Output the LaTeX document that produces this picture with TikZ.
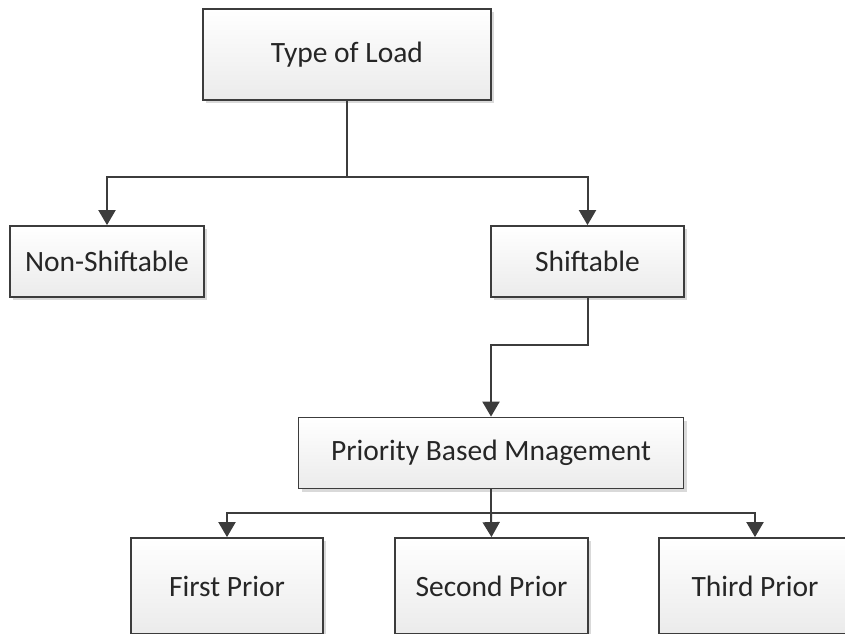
\documentclass[tikz,border=0pt]{standalone}
\usepackage{fontspec}
\setmainfont{Carlito}
\usetikzlibrary{arrows.meta,shadows,positioning}
\definecolor{linec}{HTML}{3C3C3C}
\definecolor{boxbot}{HTML}{EBEBEB}
\tikzset{
  box/.style={draw=linec, line width=1.8pt, top color=white, bottom color=boxbot,
    drop shadow={shadow xshift=3pt, shadow yshift=-3pt, opacity=0.25, fill=black!60},
    inner sep=0pt, font=\fontsize{29.5}{34}\selectfont, text=black!85},
  conn/.style={draw=linec, line width=2pt, -{Triangle[width=17pt,length=15pt]}},
  plain/.style={draw=linec, line width=2pt}
}
\begin{document}
\begin{tikzpicture}[x=1pt,y=-1pt]
\useasboundingbox (0,0) rectangle (845,633);
\clip (0,0) rectangle (845,633);
\node[box, minimum width=288pt, minimum height=91pt] (load) at (347,54.5) {Type of Load};
\node[box, minimum width=194pt, minimum height=71pt] (non) at (107,261.5) {Non-Shiftable};
\node[box, minimum width=193pt, minimum height=71pt] (shift) at (587.5,261.5) {Shiftable};
\node[box, minimum width=385pt, minimum height=71pt] (prio) at (491,453) {Priority Based Mnagement};
\node[box, minimum width=192pt, minimum height=96pt] (first) at (227,586) {First Prior};
\node[box, minimum width=193pt, minimum height=96pt] (second) at (491.5,586) {Second Prior};
\node[box, minimum width=192pt, minimum height=96pt] (third) at (755,586) {Third Prior};
\coordinate (j1) at (347,177);
\coordinate (j2) at (587,345);
\coordinate (j3) at (491,513);
\draw[plain] (load.south) -- (j1);
\draw[conn] (j1) -| (non.north);
\draw[conn] (j1) -| (shift.north);
\draw[conn] (shift.south) |- (j2) -| (prio.north);
\draw[plain] (prio.south) -- (j3);
\draw[conn] (j3) -| (first.north);
\draw[conn] (j3) -- (second.north);
\draw[conn] (j3) -| (third.north);
\end{tikzpicture}
\end{document}
